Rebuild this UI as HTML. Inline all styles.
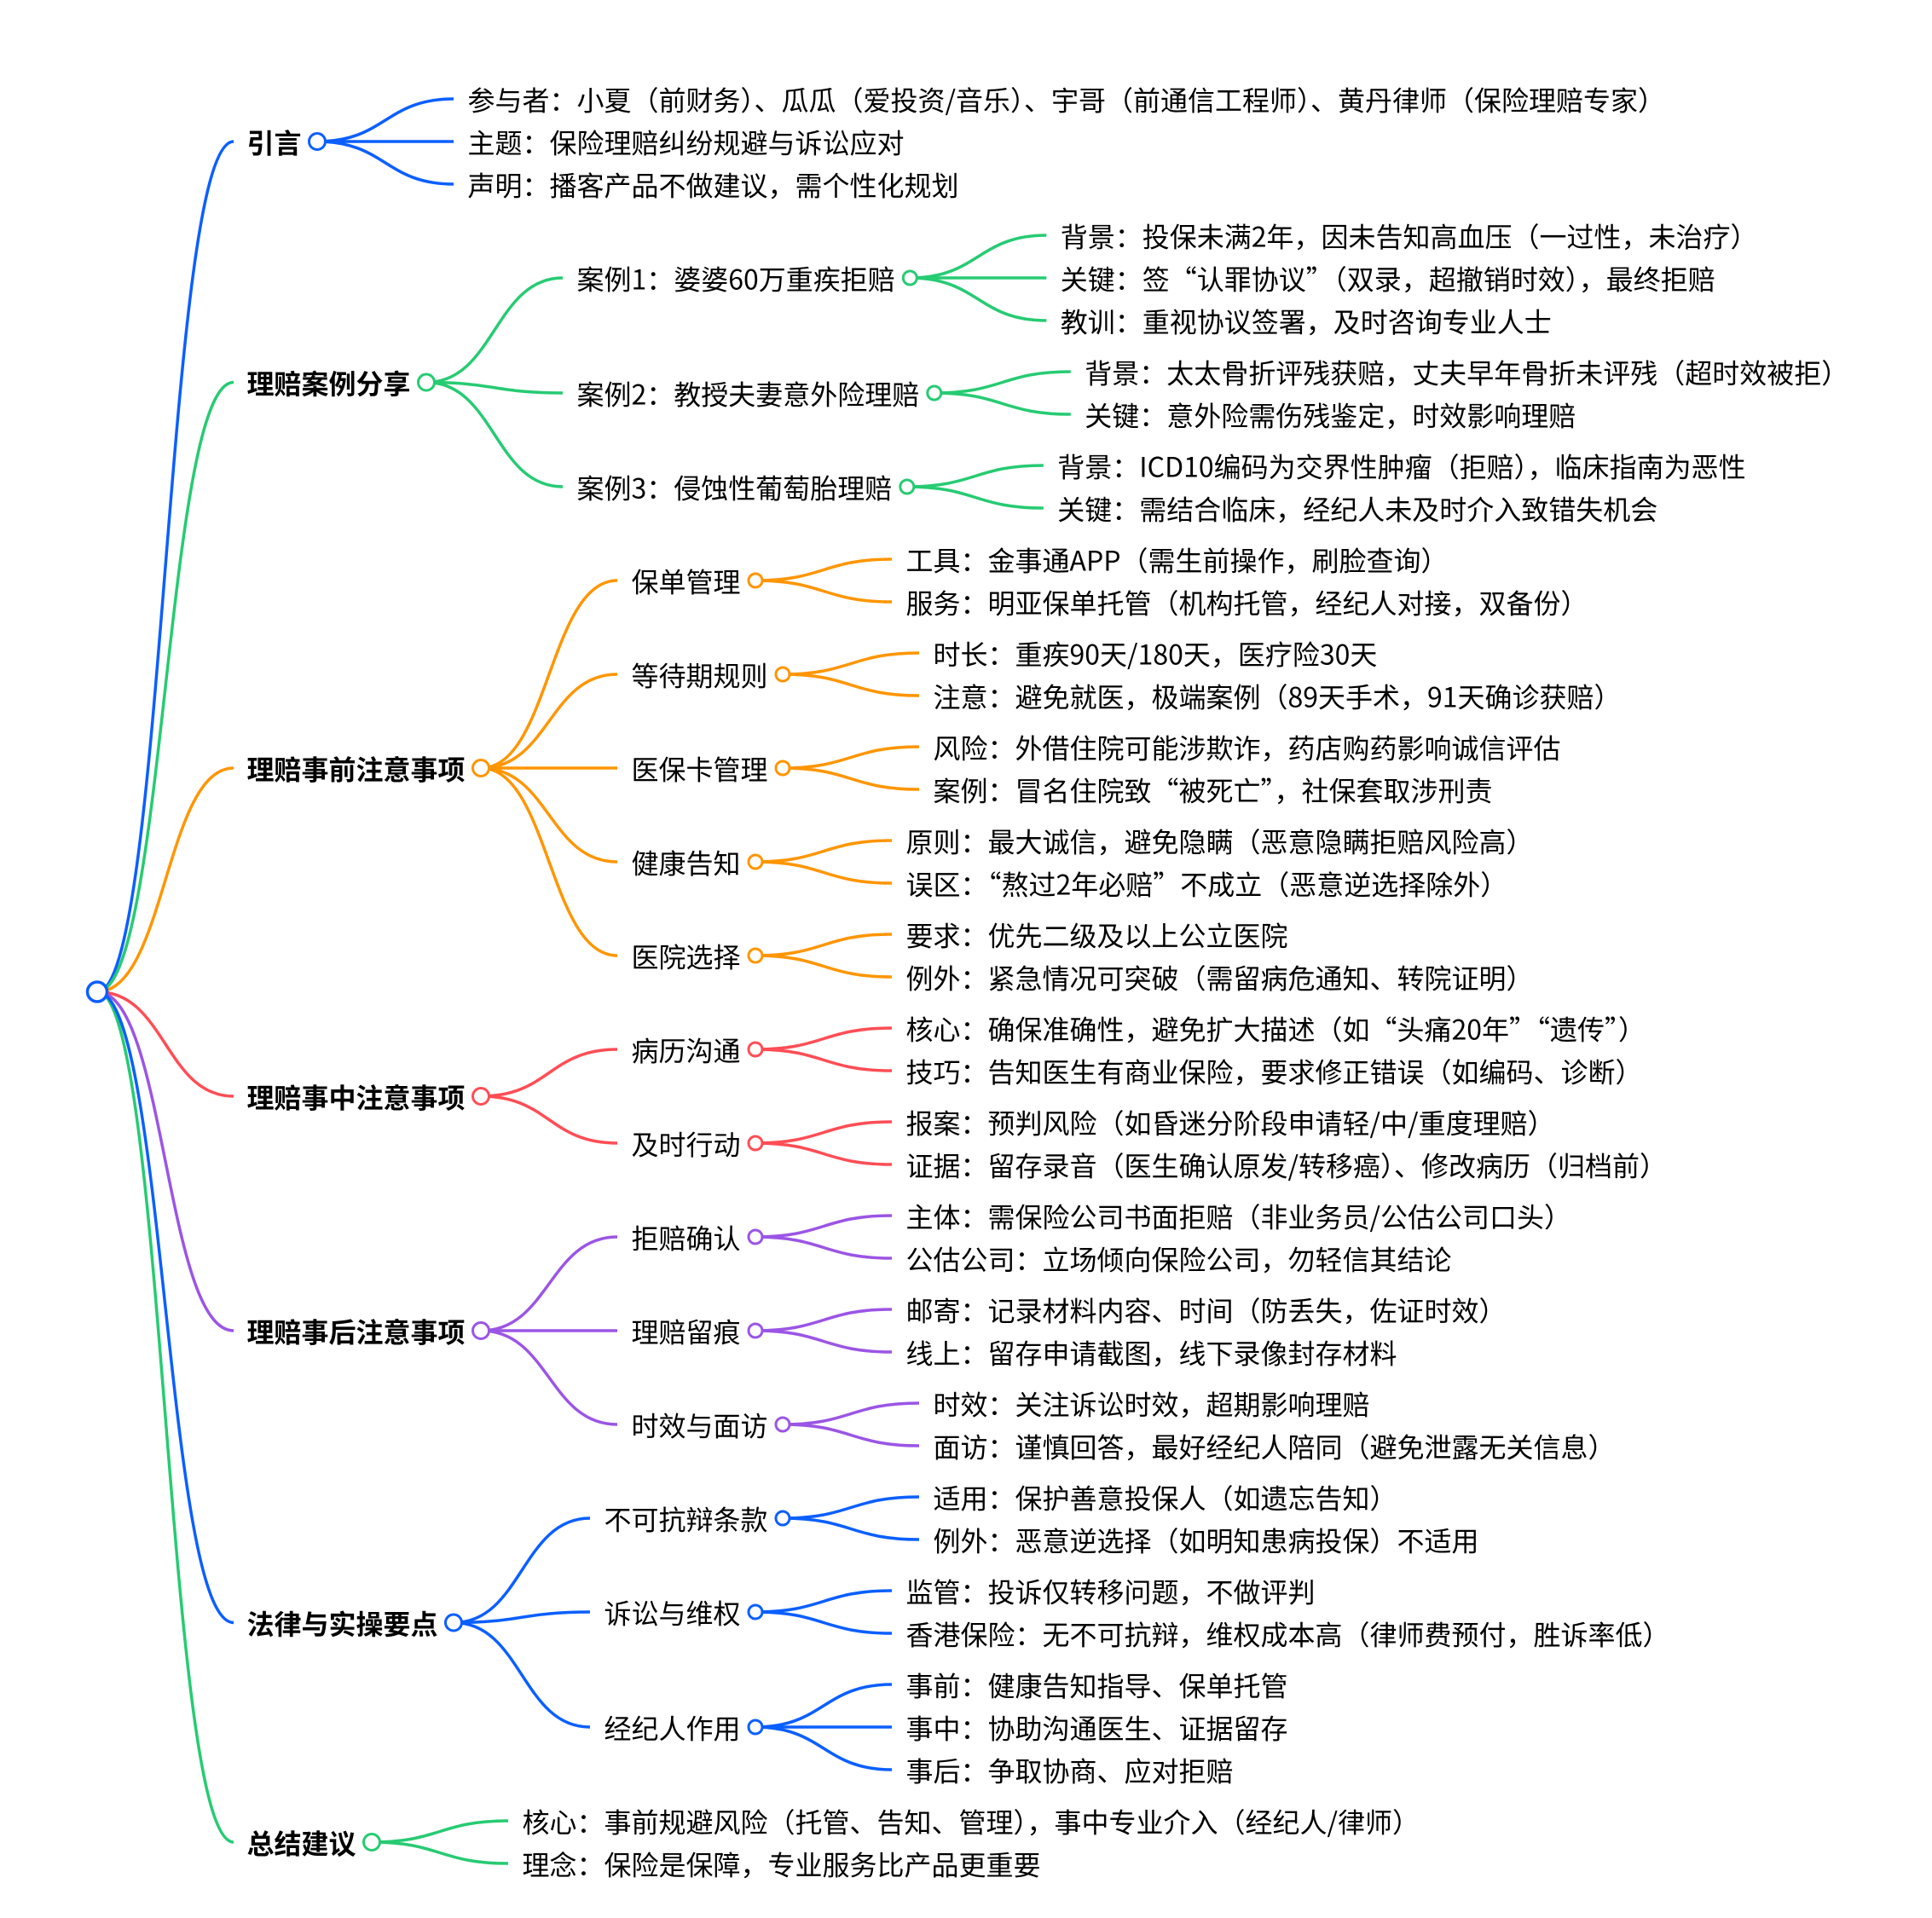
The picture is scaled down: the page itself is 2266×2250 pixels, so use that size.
<!DOCTYPE html>
<html lang="zh-CN">
<head>
<meta charset="utf-8">
<title>保险理赔思维导图</title>
<style>
html,body{margin:0;padding:0;background:#fff;width:2266px;height:2250px;overflow:hidden}
svg{display:block}
text{font-family:"Noto Sans CJK SC","Liberation Sans",sans-serif;font-size:32px;fill:#000;transform:translate(-1.5px,1.5px)}
text.b{font-weight:700;transform:translate(-2.5px,1.5px)}
path{fill:none;stroke-width:3.5}
circle{fill:#fff;stroke-width:3}
.B path{stroke:#0B5FFF}.B circle{stroke:#0B5FFF}
.G path{stroke:#26CB72}.G circle{stroke:#26CB72}
.O path{stroke:#FF9500}.O circle{stroke:#FF9500}
.R path{stroke:#FF4D55}.R circle{stroke:#FF4D55}
.P path{stroke:#9B55E5}.P circle{stroke:#9B55E5}
</style>
</head>
<body>
<svg xmlns="http://www.w3.org/2000/svg" width="2266" height="2250" viewBox="0 0 2266 2250">
<!-- root links -->
<g class="B"><path d="M114 1163.5C194 1163.5 194 166 274 166"/></g>
<g class="G"><path d="M114 1163.5C194 1163.5 194 448.500 274 448.500"/></g>
<g class="O"><path d="M114 1163.5C194 1163.5 194 901 274 901"/></g>
<g class="R"><path d="M114 1163.5C194 1163.5 194 1286 274 1286"/></g>
<g class="P"><path d="M114 1163.5C194 1163.5 194 1561 274 1561"/></g>
<g class="G"><path d="M114 1163.5C194 1163.5 194 2161 274 2161"/></g>
<g class="B"><path d="M114 1163.5C194 1163.5 194 1903.500 274 1903.500"/></g>

<!-- 引言 -->
<g class="B">
<path d="M372 166C452 166 452 116 532 116"/>
<path d="M372 166H532"/>
<path d="M372 166C452 166 452 216 532 216"/>
<circle cx="372" cy="166" r="9.500"/>
</g>
<text class="b" x="292" y="178">引言</text>
<text x="550" y="128">参与者：小夏（前财务）、瓜瓜（爱投资/音乐）、宇哥（前通信工程师）、黄丹律师（保险理赔专家）</text>
<text x="550" y="178">主题：保险理赔纠纷规避与诉讼应对</text>
<text x="550" y="228">声明：播客产品不做建议，需个性化规划</text>

<!-- 理赔案例分享 -->
<g class="G">
<path d="M500 448.500C580 448.500 580 326 660 326"/>
<path d="M500 448.500C580 448.500 580 461 660 461"/>
<path d="M500 448.500C580 448.500 580 571 660 571"/>
<circle cx="500" cy="448.500" r="9.500"/>
<path d="M1067.300 326C1147.300 326 1147.300 276 1227.300 276"/>
<path d="M1067.300 326H1227.300"/>
<path d="M1067.300 326C1147.300 326 1147.300 376 1227.300 376"/>
<circle cx="1067.300" cy="326" r="8"/>
<path d="M1095.800 461C1175.800 461 1175.800 436 1255.800 436"/>
<path d="M1095.800 461C1175.800 461 1175.800 486 1255.800 486"/>
<circle cx="1095.800" cy="461" r="8"/>
<path d="M1063.800 571C1143.800 571 1143.800 546 1223.800 546"/>
<path d="M1063.800 571C1143.800 571 1143.800 596 1223.800 596"/>
<circle cx="1063.800" cy="571" r="8"/>
</g>
<text class="b" x="292" y="460.500">理赔案例分享</text>
<text x="678" y="338">案例1：婆婆60万重疾拒赔</text>
<text x="678" y="473">案例2：教授夫妻意外险理赔</text>
<text x="678" y="583">案例3：侵蚀性葡萄胎理赔</text>
<text x="1245.300" y="288">背景：投保未满2年，因未告知高血压（一过性，未治疗）</text>
<text x="1245.300" y="338">关键：签“认罪协议”（双录，超撤销时效），最终拒赔</text>
<text x="1245.300" y="388">教训：重视协议签署，及时咨询专业人士</text>
<text x="1273.800" y="448">背景：太太骨折评残获赔，丈夫早年骨折未评残（超时效被拒）</text>
<text x="1273.800" y="498">关键：意外险需伤残鉴定，时效影响理赔</text>
<text x="1241.800" y="558">背景：ICD10编码为交界性肿瘤（拒赔），临床指南为恶性</text>
<text x="1241.800" y="608">关键：需结合临床，经纪人未及时介入致错失机会</text>

<!-- 理赔事前注意事项 -->
<g class="O">
<path d="M564 901C644 901 644 681 724 681"/>
<path d="M564 901C644 901 644 791 724 791"/>
<path d="M564 901H724"/>
<path d="M564 901C644 901 644 1011 724 1011"/>
<path d="M564 901C644 901 644 1121 724 1121"/>
<circle cx="564" cy="901" r="9.500"/>
<path d="M886 681C966 681 966 656 1046 656"/>
<path d="M886 681C966 681 966 706 1046 706"/>
<circle cx="886" cy="681" r="8"/>
<path d="M918 791C998 791 998 766 1078 766"/>
<path d="M918 791C998 791 998 816 1078 816"/>
<circle cx="918" cy="791" r="8"/>
<path d="M918 901C998 901 998 876 1078 876"/>
<path d="M918 901C998 901 998 926 1078 926"/>
<circle cx="918" cy="901" r="8"/>
<path d="M886 1011C966 1011 966 986 1046 986"/>
<path d="M886 1011C966 1011 966 1036 1046 1036"/>
<circle cx="886" cy="1011" r="8"/>
<path d="M886 1121C966 1121 966 1096 1046 1096"/>
<path d="M886 1121C966 1121 966 1146 1046 1146"/>
<circle cx="886" cy="1121" r="8"/>
</g>
<text class="b" x="292" y="913">理赔事前注意事项</text>
<text x="742" y="693">保单管理</text>
<text x="742" y="803">等待期规则</text>
<text x="742" y="913">医保卡管理</text>
<text x="742" y="1023">健康告知</text>
<text x="742" y="1133">医院选择</text>
<text x="1064" y="668">工具：金事通APP（需生前操作，刷脸查询）</text>
<text x="1064" y="718">服务：明亚保单托管（机构托管，经纪人对接，双备份）</text>
<text x="1096" y="778">时长：重疾90天/180天，医疗险30天</text>
<text x="1096" y="828">注意：避免就医，极端案例（89天手术，91天确诊获赔）</text>
<text x="1096" y="888">风险：外借住院可能涉欺诈，药店购药影响诚信评估</text>
<text x="1096" y="938">案例：冒名住院致“被死亡”，社保套取涉刑责</text>
<text x="1064" y="998">原则：最大诚信，避免隐瞒（恶意隐瞒拒赔风险高）</text>
<text x="1064" y="1048">误区：“熬过2年必赔”不成立（恶意逆选择除外）</text>
<text x="1064" y="1108">要求：优先二级及以上公立医院</text>
<text x="1064" y="1158">例外：紧急情况可突破（需留病危通知、转院证明）</text>

<!-- 理赔事中注意事项 -->
<g class="R">
<path d="M564 1286C644 1286 644 1231 724 1231"/>
<path d="M564 1286C644 1286 644 1341 724 1341"/>
<circle cx="564" cy="1286" r="9.500"/>
<path d="M886 1231C966 1231 966 1206 1046 1206"/>
<path d="M886 1231C966 1231 966 1256 1046 1256"/>
<circle cx="886" cy="1231" r="8"/>
<path d="M886 1341C966 1341 966 1316 1046 1316"/>
<path d="M886 1341C966 1341 966 1366 1046 1366"/>
<circle cx="886" cy="1341" r="8"/>
</g>
<text class="b" x="292" y="1298">理赔事中注意事项</text>
<text x="742" y="1243">病历沟通</text>
<text x="742" y="1353">及时行动</text>
<text x="1064" y="1218">核心：确保准确性，避免扩大描述（如“头痛20年”“遗传”）</text>
<text x="1064" y="1268">技巧：告知医生有商业保险，要求修正错误（如编码、诊断）</text>
<text x="1064" y="1328">报案：预判风险（如昏迷分阶段申请轻/中/重度理赔）</text>
<text x="1064" y="1378">证据：留存录音（医生确认原发/转移癌）、修改病历（归档前）</text>

<!-- 理赔事后注意事项 -->
<g class="P">
<path d="M564 1561C644 1561 644 1451 724 1451"/>
<path d="M564 1561H724"/>
<path d="M564 1561C644 1561 644 1671 724 1671"/>
<circle cx="564" cy="1561" r="9.500"/>
<path d="M886 1451C966 1451 966 1426 1046 1426"/>
<path d="M886 1451C966 1451 966 1476 1046 1476"/>
<circle cx="886" cy="1451" r="8"/>
<path d="M886 1561C966 1561 966 1536 1046 1536"/>
<path d="M886 1561C966 1561 966 1586 1046 1586"/>
<circle cx="886" cy="1561" r="8"/>
<path d="M918 1671C998 1671 998 1646 1078 1646"/>
<path d="M918 1671C998 1671 998 1696 1078 1696"/>
<circle cx="918" cy="1671" r="8"/>
</g>
<text class="b" x="292" y="1573">理赔事后注意事项</text>
<text x="742" y="1463">拒赔确认</text>
<text x="742" y="1573">理赔留痕</text>
<text x="742" y="1683">时效与面访</text>
<text x="1064" y="1438">主体：需保险公司书面拒赔（非业务员/公估公司口头）</text>
<text x="1064" y="1488">公估公司：立场倾向保险公司，勿轻信其结论</text>
<text x="1064" y="1548">邮寄：记录材料内容、时间（防丢失，佐证时效）</text>
<text x="1064" y="1598">线上：留存申请截图，线下录像封存材料</text>
<text x="1096" y="1658">时效：关注诉讼时效，超期影响理赔</text>
<text x="1096" y="1708">面访：谨慎回答，最好经纪人陪同（避免泄露无关信息）</text>

<!-- 法律与实操要点 -->
<g class="B">
<path d="M532 1903.500C612 1903.500 612 1781 692 1781"/>
<path d="M532 1903.500C612 1903.500 612 1891 692 1891"/>
<path d="M532 1903.500C612 1903.500 612 2026 692 2026"/>
<circle cx="532" cy="1903.500" r="9.500"/>
<path d="M918 1781C998 1781 998 1756 1078 1756"/>
<path d="M918 1781C998 1781 998 1806 1078 1806"/>
<circle cx="918" cy="1781" r="8"/>
<path d="M886 1891C966 1891 966 1866 1046 1866"/>
<path d="M886 1891C966 1891 966 1916 1046 1916"/>
<circle cx="886" cy="1891" r="8"/>
<path d="M886 2026C966 2026 966 1976 1046 1976"/>
<path d="M886 2026H1046"/>
<path d="M886 2026C966 2026 966 2076 1046 2076"/>
<circle cx="886" cy="2026" r="8"/>
</g>
<text class="b" x="292" y="1915.500">法律与实操要点</text>
<text x="710" y="1793">不可抗辩条款</text>
<text x="710" y="1903">诉讼与维权</text>
<text x="710" y="2038">经纪人作用</text>
<text x="1096" y="1768">适用：保护善意投保人（如遗忘告知）</text>
<text x="1096" y="1818">例外：恶意逆选择（如明知患病投保）不适用</text>
<text x="1064" y="1878">监管：投诉仅转移问题，不做评判</text>
<text x="1064" y="1928">香港保险：无不可抗辩，维权成本高（律师费预付，胜诉率低）</text>
<text x="1064" y="1988">事前：健康告知指导、保单托管</text>
<text x="1064" y="2038">事中：协助沟通医生、证据留存</text>
<text x="1064" y="2088">事后：争取协商、应对拒赔</text>

<!-- 总结建议 -->
<g class="G">
<path d="M436 2161C516 2161 516 2136 596 2136"/>
<path d="M436 2161C516 2161 516 2186 596 2186"/>
<circle cx="436" cy="2161" r="9.500"/>
</g>
<text class="b" x="292" y="2173">总结建议</text>
<text x="614" y="2148">核心：事前规避风险（托管、告知、管理），事中专业介入（经纪人/律师）</text>
<text x="614" y="2198">理念：保险是保障，专业服务比产品更重要</text>

<!-- root -->
<g class="B"><circle cx="114" cy="1163.500" r="11.500" style="stroke-width:3.500"/></g>
</svg>
</body>
</html>
